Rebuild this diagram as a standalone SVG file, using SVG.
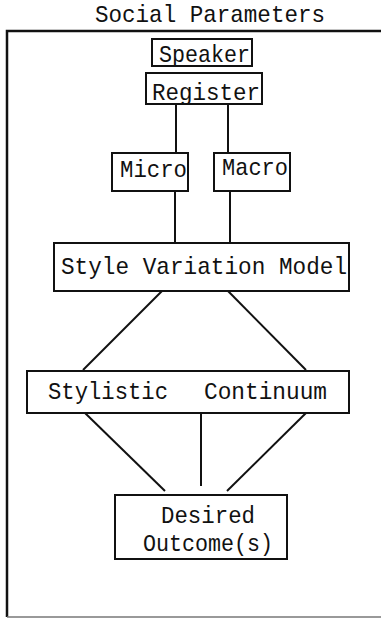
<svg xmlns="http://www.w3.org/2000/svg" width="381" height="619" viewBox="0 0 381 619">
  <style>
    .box { fill: #ffffff; stroke: #111111; stroke-width: 2; }
    .lbl { font-family: "Liberation Mono", "DejaVu Sans Mono", monospace; font-size: 24px; fill: #111111; }
    .conn line { stroke: #111111; stroke-width: 2; }
  </style>
  <rect width="381" height="619" fill="#ffffff"/>
  <g id="title">
    <text class="lbl" x="95" y="22" font-size="21" textLength="230" lengthAdjust="spacingAndGlyphs">Social Parameters</text>
  </g>
  <g id="frame">
    <path d="M 390 31 H 7 V 617" fill="none" stroke="#111111" stroke-width="2.5"/>
    <line x1="7" y1="617" x2="390" y2="617" stroke="#777777" stroke-width="1.5"/>
  </g>
  <g id="connectors" class="conn">
    <line x1="176" y1="104" x2="176" y2="153"/>
    <line x1="228" y1="104" x2="228" y2="153"/>
    <line x1="175" y1="191" x2="175" y2="243"/>
    <line x1="230" y1="191" x2="230" y2="243"/>
    <line x1="163" y1="290" x2="83" y2="370"/>
    <line x1="227" y1="290" x2="306" y2="370"/>
    <line x1="85" y1="413" x2="165" y2="491"/>
    <line x1="201" y1="413" x2="201" y2="486"/>
    <line x1="306" y1="413" x2="227" y2="491"/>
  </g>
  <g id="speaker">
    <rect class="box" x="152" y="39" width="100" height="27"/>
    <text class="lbl" x="159" y="62" textLength="91" lengthAdjust="spacingAndGlyphs">Speaker</text>
  </g>
  <g id="register">
    <rect class="box" x="146" y="73" width="116" height="31"/>
    <text class="lbl" x="152" y="100" textLength="108" lengthAdjust="spacingAndGlyphs">Register</text>
  </g>
  <g id="micro">
    <rect class="box" x="112" y="153" width="76" height="38"/>
    <text class="lbl" x="120" y="177" textLength="67" lengthAdjust="spacingAndGlyphs">Micro</text>
  </g>
  <g id="macro">
    <rect class="box" x="214" y="153" width="76" height="38"/>
    <text class="lbl" x="222" y="175" textLength="66" lengthAdjust="spacingAndGlyphs">Macro</text>
  </g>
  <g id="style-variation-model">
    <rect class="box" x="54" y="243" width="295" height="48"/>
    <text class="lbl" x="61" y="274" textLength="286" lengthAdjust="spacingAndGlyphs">Style Variation Model</text>
  </g>
  <g id="stylistic-continuum">
    <rect class="box" x="27" y="371" width="322" height="42"/>
    <text class="lbl" x="48" y="399" textLength="120" lengthAdjust="spacingAndGlyphs">Stylistic</text>
    <text class="lbl" x="204" y="399" textLength="123" lengthAdjust="spacingAndGlyphs">Continuum</text>
  </g>
  <g id="desired-outcomes">
    <rect class="box" x="115" y="495" width="172" height="64"/>
    <text class="lbl" x="161" y="523" textLength="94" lengthAdjust="spacingAndGlyphs">Desired</text>
    <text class="lbl" x="143" y="551" textLength="130" lengthAdjust="spacingAndGlyphs">Outcome(s)</text>
  </g>
</svg>
